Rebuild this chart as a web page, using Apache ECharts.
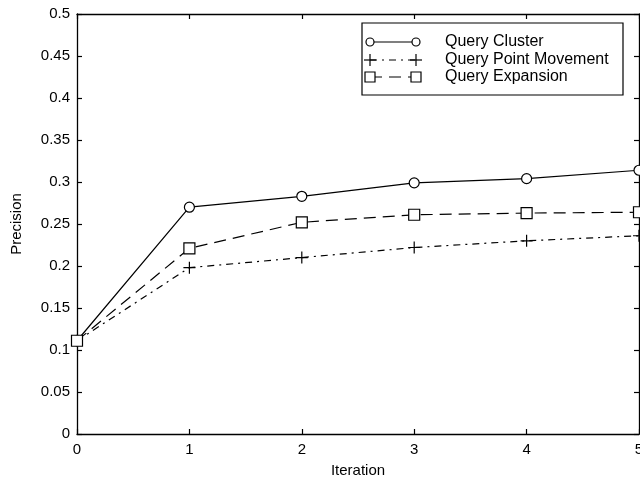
<!DOCTYPE html>
<html><head><meta charset="utf-8">
<script src="https://cdn.jsdelivr.net/npm/echarts@6/dist/echarts.min.js"></script>
<style>html,body{margin:0;padding:0;background:#fff}#c{width:640px;height:485px}</style>
</head><body><div id="c"></div>
<script>
const iterations = [0, 1, 2, 3, 4, 5];
const seriesNames = ['Query Cluster', 'Query Point Movement', 'Query Expansion'];
const queryCluster = [0.111, 0.270, 0.283, 0.299, 0.304, 0.314];
const queryPointMovement = [0.111, 0.198, 0.210, 0.222, 0.230, 0.236];
const queryExpansion = [0.111, 0.221, 0.252, 0.261, 0.263, 0.264];
const yTicks = [0, 0.05, 0.1, 0.15, 0.2, 0.25, 0.3, 0.35, 0.4, 0.45, 0.5];

const values = [queryCluster, queryPointMovement, queryExpansion];
const plusPath = 'path://M0,5L10,5M5,0L5,10';
const styles = [
  {symbol: 'circle', size: 10, dash: 'solid'},
  {symbol: plusPath, size: 12, dash: [7, 5, 2, 5]},
  {symbol: 'rect', size: 11, dash: [12, 7]}
];
const font = 'Liberation Sans, Arial, sans-serif';

const series = seriesNames.map((n, i) => ({
  name: n, type: 'line',
  data: iterations.map((x, j) => [x, values[i][j]]),
  symbol: styles[i].symbol, symbolSize: styles[i].size,
  showAllSymbol: true,
  lineStyle: {color: '#000', width: 1.2, type: styles[i].dash},
  itemStyle: {color: i === 1 ? '#000' : '#fff', borderColor: '#000', borderWidth: 1.2},
  emphasis: {disabled: true},
  animation: false, z: 3
}));

const chart = echarts.init(document.getElementById('c'), null, {renderer: 'canvas'});

const lg = {x: 362, y: 23, w: 261, h: 72, rows: [42, 60, 77], x0: 370, x1: 416, tx: 445};
const graphics = [{type: 'rect', shape: {x: lg.x, y: lg.y, width: lg.w, height: lg.h},
  style: {fill: '#fff', stroke: '#000', lineWidth: 1.2}, z: 10}];
seriesNames.forEach((n, i) => {
  const y = lg.rows[i];
  graphics.push({type: 'line', shape: {x1: lg.x0, y1: y, x2: lg.x1, y2: y},
    style: {stroke: '#000', lineWidth: 1.2, lineDash: styles[i].dash === 'solid' ? null : styles[i].dash}, z: 11});
  [lg.x0, lg.x1].forEach(cx => {
    if (i === 0) graphics.push({type: 'circle', shape: {cx: cx, cy: y, r: 4}, style: {fill: '#fff', stroke: '#000', lineWidth: 1.2}, z: 12});
    else if (i === 1) {
      graphics.push({type: 'line', shape: {x1: cx - 6, y1: y, x2: cx + 6, y2: y}, style: {stroke: '#000', lineWidth: 1.2}, z: 12});
      graphics.push({type: 'line', shape: {x1: cx, y1: y - 6, x2: cx, y2: y + 6}, style: {stroke: '#000', lineWidth: 1.2}, z: 12});
    } else graphics.push({type: 'rect', shape: {x: cx - 5, y: y - 5, width: 10, height: 10}, style: {fill: '#fff', stroke: '#000', lineWidth: 1.2}, z: 12});
  });
  graphics.push({type: 'text', x: lg.tx, y: y, style: {text: n, fill: '#000', font: '16px ' + font, verticalAlign: 'middle'}, z: 12});
});

const axisCommon = {
  type: 'value', min: 0,
  axisLine: {show: true, onZero: false, lineStyle: {color: '#000', width: 1.3}},
  axisTick: {show: true, inside: true, length: 5, lineStyle: {color: '#000', width: 1.2}},
  splitLine: {show: false}
};

chart.setOption({
  animation: false,
  grid: {left: 77, right: 1, top: 14, bottom: 51, containLabel: false, outerBoundsMode: 'none'},
  xAxis: [
    Object.assign({}, axisCommon, {max: 5, interval: 1, position: 'bottom',
      name: 'Iteration', nameLocation: 'middle', nameGap: 29,
      nameTextStyle: {color: '#000', fontSize: 15, fontFamily: font},
      axisLabel: {color: '#000', fontSize: 15, fontFamily: font, margin: 8, showMaxLabel: true}}),
    Object.assign({}, axisCommon, {max: 5, interval: 1, position: 'top', axisLabel: {show: false}})
  ],
  yAxis: [
    Object.assign({}, axisCommon, {max: 0.5, interval: 0.05, position: 'left',
      name: 'Precision', nameLocation: 'middle', nameGap: 53, nameRotate: 90,
      nameTextStyle: {color: '#000', fontSize: 15, fontFamily: font},
      axisLabel: {color: '#000', fontSize: 15, fontFamily: font, margin: 7,
        formatter: v => { const t = yTicks.find(k => Math.abs(k - v) < 1e-9); return t === undefined ? '' : String(t); }}}),
    Object.assign({}, axisCommon, {max: 0.5, interval: 0.05, position: 'right', axisLabel: {show: false}})
  ],
  series: series,
  graphic: graphics
});
</script></body></html>
